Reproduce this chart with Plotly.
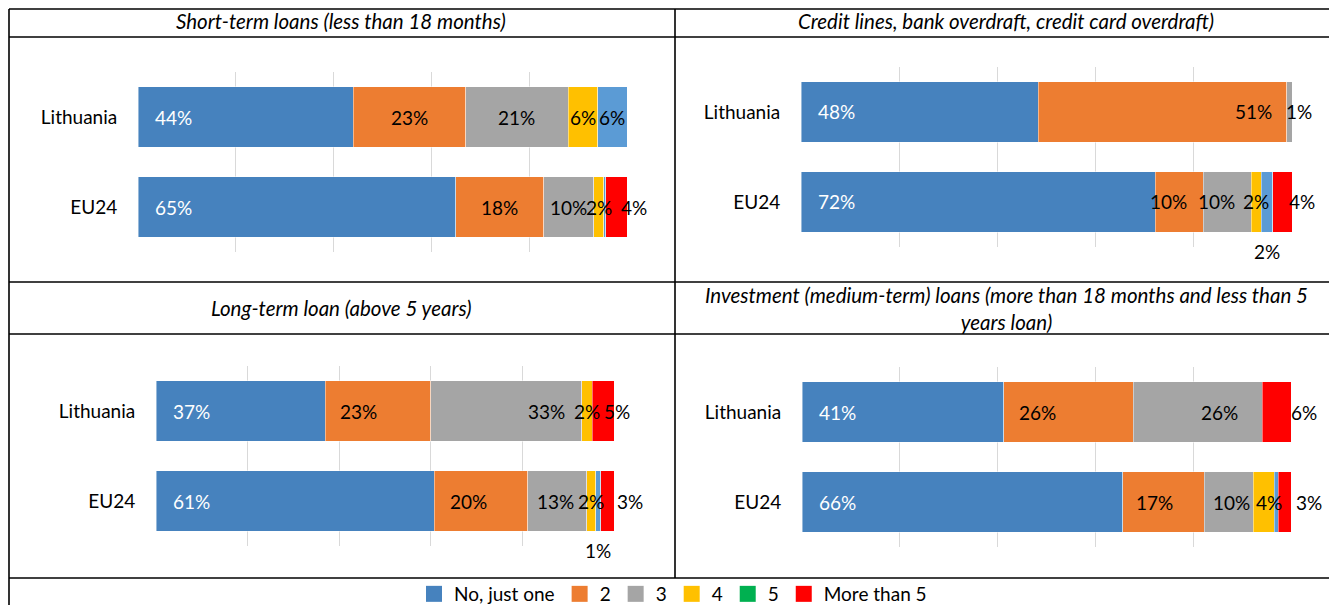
import plotly.graph_objects as go

# the page adds an 8px body margin, so the figure is drawn 8px in from the corner;
# the figure keeps the full window size (its last 8px fall outside the window)
OFF = 8
W, H = 1337, 605


def px(x):
    return (x - OFF) / W


def py(y):
    return 1 - (y - OFF) / H


categories = ["Lithuania", "EU24"]
series_names = ["No, just one", "2", "3", "4", "5", "More than 5"]
legend_colors = ["#4682BE", "#ED7D31", "#A5A5A5", "#FFC000", "#00B050", "#FF0000"]
bar_colors = ["#4682BE", "#ED7D31", "#A5A5A5", "#FFC000", "#5B9BD5", "#FF0000"]

panel_titles = [
    "Short-term loans (less than 18 months)",
    "Credit lines, bank overdraft, credit card overdraft)",
    "Long-term loan (above 5 years)",
    "Investment (medium-term) loans (more than 18 months and less than 5<br>years loan)",
]

# values (%) per series: No just one, 2, 3, 4, 5, More than 5
short_term_lt = [44, 23, 21, 6, 6, 0]
short_term_eu = [65, 18, 10.2, 2, 0.5, 4.3]
credit_lt = [48.3, 50.6, 1.1, 0, 0, 0]
credit_eu = [72.1, 9.8, 9.8, 2.0, 2.4, 3.9]
long_lt = [36.9, 23.1, 33, 2.2, 0, 4.8]
long_eu = [60.7, 20.5, 12.9, 1.9, 1.1, 2.9]
invest_lt = [41.3, 26.4, 26.4, 0, 0, 5.9]
invest_eu = [65.6, 16.7, 10, 4.3, 0.8, 2.6]

panels = [
    (short_term_lt, short_term_eu),
    (credit_lt, credit_eu),
    (long_lt, long_eu),
    (invest_lt, invest_eu),
]

# label placement: (mode, xshift px, yshift px) or None
B = ("base", 15, 0)
C = ("c", 0, 0)
label_specs = [
    ([B, C, C, C, C, None], [B, C, C, C, None, ("c", 18, 0)]),
    ([B, ("c", 91, 0), ("c", 10, 0), None, None, None],
     [B, ("c", -11, 0), ("c", -11, 0), C, ("c", 0, -50), ("c", 20, 0)]),
    ([B, ("c", -19, 0), ("c", 40, 0), ("c", 0, 0), None, ("c", 14, 0)],
     [B, ("c", -12, 0), ("c", -2, 0), C, ("c", 0, -49), ("c", 23, 0)]),
    ([B, ("c", -31, 0), ("c", 22, 0), None, None, ("c", 27, 0)],
     [B, ("c", -9, 0), ("c", 3, 0), ("c", 5, 0), None, ("c", 24, 0)]),
]

# plot areas in reference pixels: (x0, x1, ytop, ybottom)
areas = [(138, 627, 72, 252), (801, 1292, 67, 247), (156, 614, 366, 546), (802, 1291, 367, 547)]

FONT = "Lato"
FS = 19
fig = go.Figure()
annotations = []

for p, ((lt, eu), specs, (x0, x1, yt, yb)) in enumerate(zip(panels, label_specs, areas)):
    ax = "" if p == 0 else str(p + 1)
    for s in range(len(series_names)):
        fig.add_trace(go.Bar(
            y=categories, x=[lt[s], eu[s]], orientation="h",
            name=series_names[s], showlegend=False,
            marker=dict(color=bar_colors[s], line=dict(color="rgba(255,255,255,0.55)", width=0.8)),
            xaxis="x" + ax, yaxis="y" + ax, hoverinfo="skip",
        ))
    for r, vals in enumerate((lt, eu)):
        cum = 0
        for s, v in enumerate(vals):
            spec = specs[r][s]
            if spec is not None and v > 0:
                mode, dx, dy = spec
                if mode == "base":
                    xx, anchor = cum, "left"
                else:
                    xx, anchor = cum + v / 2, "center"
                annotations.append(dict(
                    x=xx, y=categories[r], xref="x" + ax, yref="y" + ax,
                    text=f"{round(v)}%", showarrow=False, xanchor=anchor,
                    xshift=dx, yshift=dy,
                    font=dict(family=FONT, size=FS, color="white" if s == 0 else "black"),
                ))
            cum += v
    fig.layout["xaxis" + ax] = dict(
        domain=[px(x0), px(x1)], range=[0, 100], dtick=20, showgrid=True,
        gridcolor="#D9D9D9", gridwidth=1, zeroline=False, showticklabels=False,
        anchor="y" + ax, fixedrange=True,
    )
    fig.layout["yaxis" + ax] = dict(
        domain=[py(yb), py(yt)], type="category", categoryarray=categories,
        range=[1.5, -0.5], showgrid=False, zeroline=False, ticks="outside",
        ticklen=16, tickcolor="rgba(0,0,0,0)", anchor="x" + ax,
        tickfont=dict(family=FONT, size=FS, color="black"), fixedrange=True,
    )

# legend entries
for n, c in zip(series_names, legend_colors):
    fig.add_trace(go.Scatter(
        x=[None], y=[None], mode="markers", name=n,
        marker=dict(symbol="square", size=16, color=c),
        xaxis="x", yaxis="y",
    ))

# panel headers
header_pos = [(341, 21), (1006, 21), (341, 308), (1006, 308)]
for t, (hx, hy) in zip(panel_titles, header_pos):
    annotations.append(dict(
        x=px(hx), y=py(hy), xref="paper", yref="paper", text=f"<i>{t}</i>",
        showarrow=False, xanchor="center", yanchor="middle",
        font=dict(family=FONT, size=20.5, color="black"),
    ))


# table lines
def hline(y, xa=9, xb=1345):
    return dict(type="line", xref="paper", yref="paper", x0=px(xa), x1=px(xb),
                y0=py(y), y1=py(y), line=dict(color="black", width=1.6))


def vline(x, ya, yb):
    return dict(type="line", xref="paper", yref="paper", x0=px(x), x1=px(x),
                y0=py(ya), y1=py(yb), line=dict(color="black", width=1.6))


shapes = [hline(9), hline(37), hline(282), hline(334), hline(578),
          vline(9, 9, 613), vline(675, 9, 578)]

fig.update_layout(
    width=W, height=H, margin=dict(l=0, r=0, t=0, b=0),
    paper_bgcolor="white", plot_bgcolor="white",
    barmode="stack", bargap=0.333,
    annotations=annotations, shapes=shapes,
    showlegend=True,
    legend=dict(orientation="h", x=px(673), xanchor="center", y=py(594), yanchor="middle",
                font=dict(family=FONT, size=19, color="black"), itemwidth=30,
                traceorder="normal", bgcolor="rgba(0,0,0,0)", tracegroupgap=0,
                borderwidth=0),
    font=dict(family=FONT),
)

fig.write_html("out.html")
